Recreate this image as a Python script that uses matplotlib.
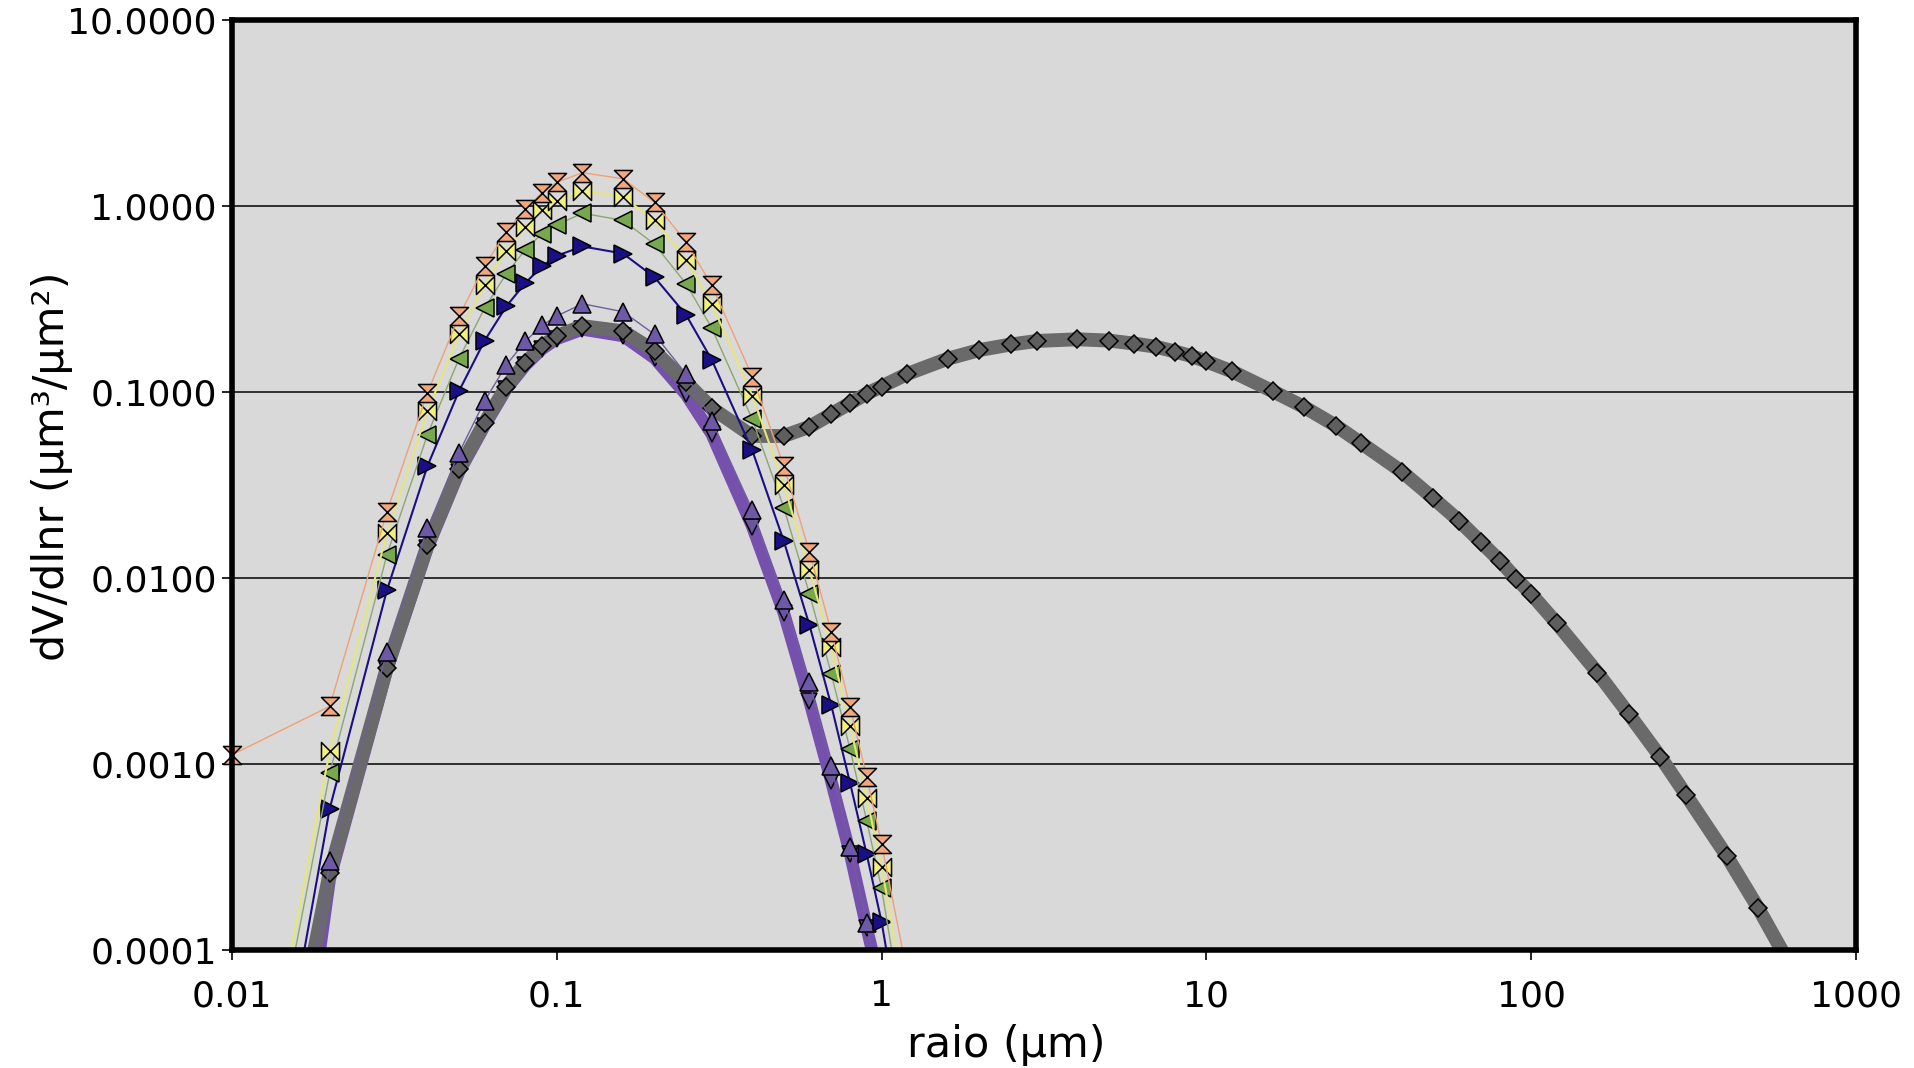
import matplotlib
matplotlib.use('Agg')
import matplotlib.pyplot as plt
import numpy as np
from matplotlib.path import Path
from matplotlib.ticker import FixedLocator, FuncFormatter

# radius grid (um) for the fine-mode series
r_fine = [0.01, 0.02, 0.03, 0.04, 0.05, 0.06, 0.07, 0.08, 0.09, 0.1, 0.12, 0.16,
          0.2, 0.25, 0.3, 0.4, 0.5, 0.6, 0.7, 0.8, 0.9, 1.0, 1.2]

orange = [0.00112, 0.00204, 0.0227, 0.099, 0.255, 0.477, 0.729, 0.96, 1.18, 1.34, 1.51, 1.40,
          1.045, 0.64, 0.375, 0.121, 0.040, 0.0138, 0.00515, 0.00202, 0.000855, 0.000372, 0.000075]
yellow = [2.3e-6, 0.00117, 0.0174, 0.079, 0.204, 0.377, 0.576, 0.775, 0.95, 1.07, 1.21, 1.115,
          0.837, 0.514, 0.299, 0.0955, 0.0318, 0.011, 0.00423, 0.0016, 0.00066, 0.00028, 4.8e-5]
green = [1.8e-6, 0.00089, 0.0133, 0.059, 0.151, 0.283, 0.433, 0.581, 0.708, 0.791, 0.914, 0.837,
         0.623, 0.382, 0.221, 0.0713, 0.0239, 0.0082, 0.00306, 0.0012, 0.000495, 0.000215, 3.1e-5]
navy = [6.8e-7, 0.000575, 0.00858, 0.040, 0.101, 0.189, 0.289, 0.385, 0.473, 0.54, 0.606, 0.555,
        0.414, 0.26, 0.149, 0.0485, 0.0158, 0.00557, 0.00207, 0.00079, 0.000327, 0.000142, 2.2e-5]
purple_up = [5e-8, 0.0003, 0.004, 0.0185, 0.047, 0.0895, 0.14, 0.187, 0.228, 0.256, 0.298, 0.27,
             0.204, 0.125, 0.07, 0.0233, 0.0076, 0.00275, 0.00098, 0.00036, 0.00014, 0.00005, 5e-6]
purple_dn = [4e-8, 0.00024, 0.0032, 0.0145, 0.037, 0.066, 0.104, 0.139, 0.17, 0.193, 0.217, 0.2,
             0.152, 0.097, 0.0594, 0.0189, 0.0065, 0.00218, 0.00081, 0.00033, 0.000132, 0.00006, 5e-6]

# bimodal total distribution
r_gray = [0.01, 0.02, 0.03, 0.04, 0.05, 0.06, 0.07, 0.08, 0.09, 0.1, 0.12, 0.16, 0.2, 0.25,
          0.3, 0.4, 0.5, 0.6, 0.7, 0.8, 0.9, 1.0, 1.2, 1.6, 2, 2.5, 3, 4, 5, 6, 7, 8, 9, 10,
          12, 16, 20, 25, 30, 40, 50, 60, 70, 80, 90, 100, 120, 160, 200, 250, 300, 400, 500, 600]
gray = [6e-7, 0.00026, 0.0033, 0.015, 0.0385, 0.0685, 0.107, 0.143, 0.176, 0.2, 0.226, 0.212,
        0.166, 0.113, 0.082, 0.058, 0.058, 0.065, 0.076, 0.087, 0.098, 0.107, 0.125, 0.151,
        0.168, 0.18, 0.188, 0.192, 0.189, 0.182, 0.175, 0.165, 0.156, 0.146, 0.129, 0.101,
        0.083, 0.066, 0.053, 0.0373, 0.0268, 0.0203, 0.0156, 0.0124, 0.0099, 0.0082, 0.0057,
        0.0031, 0.00185, 0.00109, 0.00068, 0.00032, 0.000168, 0.000095]

yticks = [0.0001, 0.001, 0.01, 0.1, 1, 10]
xticks = [0.01, 0.1, 1, 10, 100, 1000]
ymin, ymax = 0.0001, 10

hourglass = Path([(-1, 1), (1, 1), (-1, -1), (1, -1), (-1, 1)],
                 [Path.MOVETO, Path.LINETO, Path.LINETO, Path.LINETO, Path.CLOSEPOLY])
bowtie = Path([(-1, 1), (-1, -1), (1, 1), (1, -1), (-1, 1)],
              [Path.MOVETO, Path.LINETO, Path.LINETO, Path.LINETO, Path.CLOSEPOLY])

fig = plt.figure(figsize=(19.15, 10.68), dpi=100)
ax = fig.add_axes([0.1211, 0.1105, 0.8481, 0.8708])
ax.set_facecolor('#d9d9d9')


def draw(x, y, lc, lw, marker, mfc, ms, z):
    x = np.array(x)
    y = np.array(y)
    ax.plot(x, y, color=lc, lw=lw, zorder=z, solid_capstyle='butt')
    ok = y >= ymin * 0.999
    ax.plot(x[ok], y[ok], ls='none', marker=marker, ms=ms, mfc=mfc, mec='black',
            mew=1.1, zorder=z + 0.5, clip_on=False)


draw(r_fine, purple_dn, '#7650ad', 9, 'v', '#6a55a0', 12, 2)
draw(r_gray, gray, '#6a6a6a', 10, 'D', '#5e5e5e', 9.5, 3)
draw(r_fine, purple_up, '#6f5f9c', 1.0, '^', '#6e58a8', 13, 4)
draw(r_fine, navy, '#1a0f85', 1.5, '>', '#1a0f85', 13, 5)
draw(r_fine, green, '#8aa86a', 1.0, '<', '#78a84e', 13, 6)
draw(r_fine, yellow, '#e6e67a', 1.5, bowtie, '#f0f07a', 13, 7)
draw(r_fine, orange, '#f2a070', 1.0, hourglass, '#f3a67c', 13, 8)

ax.set_xscale('log')
ax.set_yscale('log')
ax.set_xlim(0.01, 1000)
ax.set_ylim(ymin, ymax)

ax.yaxis.set_major_locator(FixedLocator(yticks))
ax.yaxis.set_minor_locator(FixedLocator([]))
ax.xaxis.set_major_locator(FixedLocator(xticks))
ax.xaxis.set_minor_locator(FixedLocator([]))
ax.yaxis.set_major_formatter(FuncFormatter(lambda v, p: f'{v:.4f}'))
ax.xaxis.set_major_formatter(FuncFormatter(lambda v, p: f'{v:g}'))

for yy in yticks[1:-1]:
    ax.axhline(yy, color='#222222', lw=1.3, zorder=1)

for s in ax.spines.values():
    s.set_linewidth(4)
    s.set_color('black')
    s.set_zorder(10)

ax.tick_params(axis='both', direction='out', length=7, width=1.2, labelsize=26,
               colors='black')
ax.tick_params(axis='x', pad=14)
ax.tick_params(axis='y', pad=4)

ax.set_xlabel('raio (µm)', fontsize=31)
ax.set_ylabel('dV/dlnr (µm³/µm²)', fontsize=31)
ax.xaxis.set_label_coords(0.477, -0.08)
ax.yaxis.set_label_coords(-0.098, 0.52)

fig.savefig('out.png', dpi=100)
